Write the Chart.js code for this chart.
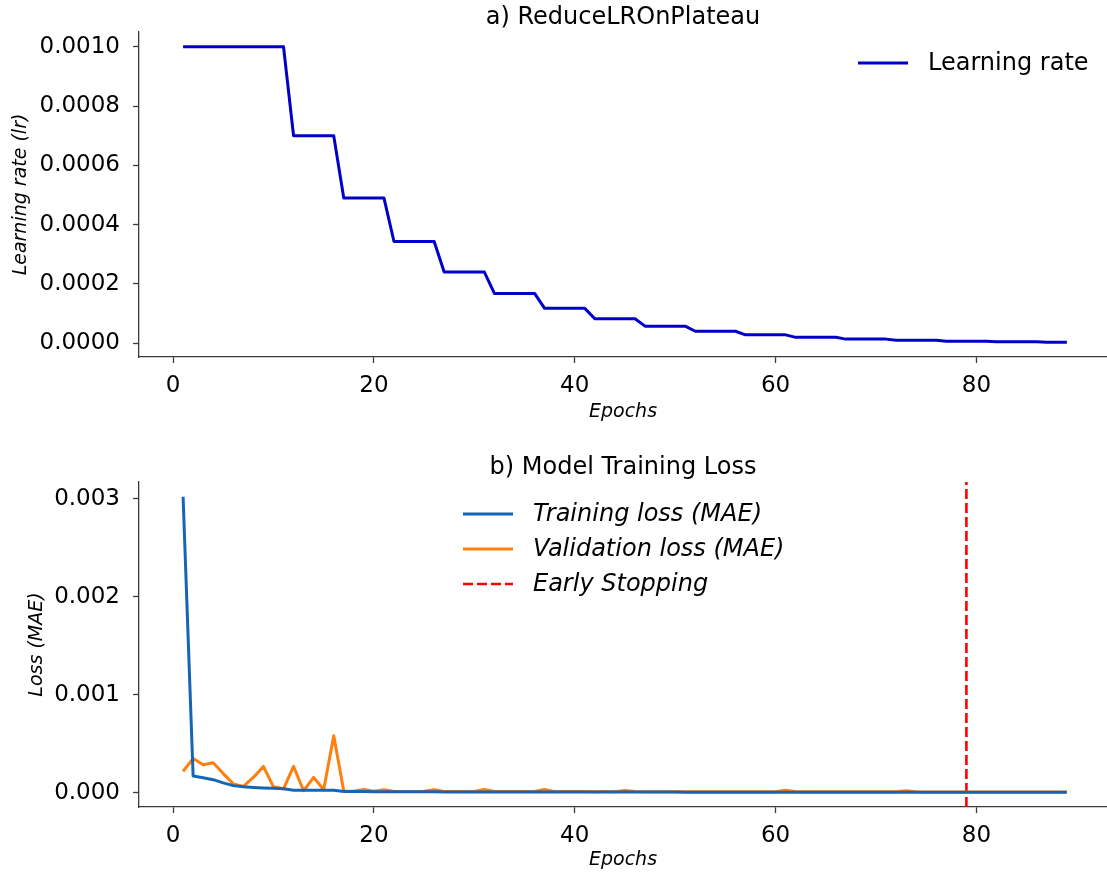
<!DOCTYPE html>
<html>
<head>
<meta charset="utf-8">
<script src="https://cdn.jsdelivr.net/npm/chart.js@4.4.1/dist/chart.umd.min.js"></script>
<style>
  body { margin: 0; background: #fff; }
  #wrap { position: relative; width: 1107px; height: 877px; }
  canvas { position: absolute; left: 0; }
</style>
</head>
<body>
<div id="wrap">
  <canvas id="lrChart" width="1107" height="440" style="top:0"></canvas>
  <canvas id="lossChart" width="1107" height="437" style="top:440px"></canvas>
</div>
<script>
// epochs run 1..89
var epochs = [
  1, 2, 3, 4, 5, 6, 7, 8, 9, 10, 11, 12, 13, 14, 15, 16, 17, 18, 19, 20,
  21, 22, 23, 24, 25, 26, 27, 28, 29, 30, 31, 32, 33, 34, 35, 36, 37, 38, 39, 40,
  41, 42, 43, 44, 45, 46, 47, 48, 49, 50, 51, 52, 53, 54, 55, 56, 57, 58, 59, 60,
  61, 62, 63, 64, 65, 66, 67, 68, 69, 70, 71, 72, 73, 74, 75, 76, 77, 78, 79, 80,
  81, 82, 83, 84, 85, 86, 87, 88, 89
];

// learning rate after each epoch (ReduceLROnPlateau, factor 0.7)
var learningRate = [
  0.001, 0.001, 0.001, 0.001, 0.001, 0.001, 0.001, 0.001, 0.001, 0.001, 0.001,
  0.0007, 0.0007, 0.0007, 0.0007, 0.0007,
  0.00049, 0.00049, 0.00049, 0.00049, 0.00049,
  0.000343, 0.000343, 0.000343, 0.000343, 0.000343,
  0.00024, 0.00024, 0.00024, 0.00024, 0.00024,
  0.000168, 0.000168, 0.000168, 0.000168, 0.000168,
  0.0001176, 0.0001176, 0.0001176, 0.0001176, 0.0001176,
  0.0000824, 0.0000824, 0.0000824, 0.0000824, 0.0000824,
  0.0000576, 0.0000576, 0.0000576, 0.0000576, 0.0000576,
  0.0000404, 0.0000404, 0.0000404, 0.0000404, 0.0000404,
  0.0000282, 0.0000282, 0.0000282, 0.0000282, 0.0000282,
  0.0000198, 0.0000198, 0.0000198, 0.0000198, 0.0000198,
  0.0000138, 0.0000138, 0.0000138, 0.0000138, 0.0000138,
  0.0000097, 0.0000097, 0.0000097, 0.0000097, 0.0000097,
  0.0000068, 0.0000068, 0.0000068, 0.0000068, 0.0000068,
  0.0000047, 0.0000047, 0.0000047, 0.0000047, 0.0000047,
  0.0000033, 0.0000033, 0.0000033
];

var trainLoss = [
  0.00302, 0.000170, 0.000152, 0.000133, 0.000100, 0.000072, 0.000060, 0.000054, 0.000049, 0.000045,
  0.000040, 0.000026, 0.000025, 0.000025, 0.000024, 0.000024, 0.000012, 0.000011, 0.000011, 0.000010,
  0.000010, 0.000010, 0.000009, 0.000009, 0.000009, 0.000009, 0.000008, 0.000008, 0.000008, 0.000008,
  0.000008, 0.000007, 0.000007, 0.000007, 0.000007, 0.000007, 0.000007, 0.000006, 0.000006, 0.000006,
  0.000006, 0.000006, 0.000006, 0.000006, 0.000006, 0.000006, 0.000006, 0.000006, 0.000006, 0.000006,
  0.000005, 0.000005, 0.000005, 0.000005, 0.000005, 0.000005, 0.000005, 0.000005, 0.000005, 0.000005,
  0.000005, 0.000005, 0.000005, 0.000005, 0.000005, 0.000005, 0.000005, 0.000005, 0.000005, 0.000005,
  0.000004, 0.000004, 0.000004, 0.000004, 0.000004, 0.000004, 0.000004, 0.000004, 0.000004, 0.000004,
  0.000004, 0.000004, 0.000004, 0.000004, 0.000004, 0.000004, 0.000004, 0.000004, 0.000004
];

var valLoss = [
  0.000217, 0.000349, 0.000285, 0.000305, 0.000195, 0.000090, 0.000064, 0.000156, 0.000268, 0.000060,
  0.000040, 0.000268, 0.000020, 0.000156, 0.000030, 0.000580, 0.000018, 0.000015, 0.000032, 0.000014,
  0.000030, 0.000013, 0.000013, 0.000012, 0.000014, 0.000030, 0.000013, 0.000012, 0.000012, 0.000013,
  0.000034, 0.000012, 0.000011, 0.000011, 0.000012, 0.000012, 0.000032, 0.000011, 0.000011, 0.000011,
  0.000011, 0.000010, 0.000011, 0.000010, 0.000022, 0.000011, 0.000010, 0.000010, 0.000010, 0.000010,
  0.000010, 0.000010, 0.000010, 0.000010, 0.000010, 0.000009, 0.000010, 0.000009, 0.000009, 0.000010,
  0.000024, 0.000009, 0.000009, 0.000009, 0.000009, 0.000009, 0.000009, 0.000009, 0.000010, 0.000009,
  0.000009, 0.000009, 0.000020, 0.000009, 0.000008, 0.000008, 0.000008, 0.000008, 0.000008, 0.000008,
  0.000008, 0.000008, 0.000008, 0.000008, 0.000008, 0.000008, 0.000008, 0.000008, 0.000008
];

var earlyStopEpoch = 79;

var epochTicks = [0, 20, 40, 60, 80];
var lrTicks = [0, 0.0002, 0.0004, 0.0006, 0.0008, 0.001];
var lossTicks = [0, 0.001, 0.002, 0.003];

// axis limits (data range plus 5% margin)
var epochMin = -3.39, epochMax = 93.0;
var lrMin = -0.0000465, lrMax = 0.0010498;
var lossMin = -0.000146, lossMax = 0.00317;

var FONT = "'DejaVu Sans', 'Liberation Sans', sans-serif";
var SPINE = '#3a3a3a';

function points(ys) {
  return epochs.map(function (e, i) { return { x: e, y: ys[i] }; });
}

// legend drawn as short line samples inside the plot area
var lineLegend = {
  id: 'lineLegend',
  afterDraw: function (chart, args, opts) {
    var ctx = chart.ctx, area = chart.chartArea;
    ctx.save();
    ctx.font = opts.font;
    ctx.textBaseline = 'middle';
    ctx.textAlign = 'left';
    var y = area.top + opts.top;
    chart.data.datasets.forEach(function (ds) {
      var x = area.left + opts.left;
      ctx.strokeStyle = ds.borderColor;
      ctx.lineWidth = ds.borderWidth;
      ctx.setLineDash(ds.borderDash || []);
      ctx.beginPath();
      ctx.moveTo(x, y);
      ctx.lineTo(x + opts.lineLength, y);
      ctx.stroke();
      ctx.setLineDash([]);
      ctx.fillStyle = '#000';
      ctx.fillText(ds.label, x + opts.lineLength + opts.gap, y + 1);
      y += opts.rowHeight;
    });
    ctx.restore();
  }
};

function xAxis(height, titlePad) {
  return {
    type: 'linear',
    min: epochMin,
    max: epochMax,
    afterBuildTicks: function (scale) {
      scale.ticks = epochTicks.map(function (v) { return { value: v }; });
    },
    afterFit: function (scale) { scale.height = height; },
    grid: { display: true, drawOnChartArea: false, drawTicks: true, tickLength: 6, tickColor: SPINE, tickWidth: 1.3 },
    border: { display: true, color: SPINE, width: 1.3 },
    ticks: { color: '#000', padding: 9, maxRotation: 0, font: { family: FONT, size: 23 },
      callback: function (v) { return String(v); } },
    title: { display: true, text: 'Epochs', color: '#000',
      font: { family: FONT, size: 19, style: 'italic' }, padding: { top: 0, bottom: titlePad } }
  };
}

function yAxis(min, max, tickVals, digits, label, titlePad) {
  return {
    min: min,
    max: max,
    afterBuildTicks: function (scale) {
      scale.ticks = tickVals.map(function (v) { return { value: v }; });
    },
    afterFit: function (scale) { scale.width = 139; },
    grid: { display: true, drawOnChartArea: false, drawTicks: true, tickLength: 6, tickColor: SPINE, tickWidth: 1.3 },
    border: { display: true, color: SPINE, width: 1.3 },
    ticks: { color: '#000', padding: 13, font: { family: FONT, size: 23 },
      callback: function (v) { return v.toFixed(digits); } },
    title: { display: true, text: label, color: '#000',
      font: { family: FONT, size: 19, style: 'italic' }, padding: { top: titlePad, bottom: 0 } }
  };
}

function titleOpts(text, padTop) {
  return { display: true, text: text, color: '#000', fullSize: false,
    font: { family: FONT, size: 24, weight: 'normal' }, padding: { top: padTop, bottom: 0 } };
}

// a) learning rate schedule
new Chart(document.getElementById('lrChart').getContext('2d'), {
  type: 'line',
  data: {
    datasets: [{
      label: 'Learning rate',
      data: points(learningRate),
      borderColor: '#0000c8',
      borderWidth: 3,
      borderJoinStyle: 'round',
      pointRadius: 0,
      fill: false,
      tension: 0
    }]
  },
  options: {
    responsive: false,
    animation: false,
    devicePixelRatio: 1,
    layout: { padding: { left: 0, right: 0, top: 0, bottom: 0 } },
    scales: {
      x: xAxis(83, 16.5),
      y: yAxis(lrMin, lrMax, lrTicks, 4, 'Learning rate (lr)', 10)
    },
    plugins: {
      legend: { display: false },
      tooltip: { enabled: false },
      title: titleOpts('a) ReduceLROnPlateau', 3.2),
      lineLegend: { left: 719, top: 31, lineLength: 50, gap: 20, rowHeight: 35,
        font: '24px ' + FONT }
    }
  },
  plugins: [lineLegend]
});

// b) training / validation loss with early stopping marker
new Chart(document.getElementById('lossChart').getContext('2d'), {
  type: 'line',
  data: {
    datasets: [{
      label: 'Training loss (MAE)',
      data: points(trainLoss),
      borderColor: '#1565b5',
      borderWidth: 3,
      borderJoinStyle: 'round',
      pointRadius: 0,
      fill: false
    }, {
      label: 'Validation loss (MAE)',
      data: points(valLoss),
      borderColor: '#ff7f0e',
      borderWidth: 3,
      borderJoinStyle: 'round',
      pointRadius: 0,
      fill: false
    }, {
      label: 'Early Stopping',
      data: [{ x: earlyStopEpoch, y: lossMin }, { x: earlyStopEpoch, y: lossMax }],
      borderColor: '#ff0000',
      borderWidth: 2.6,
      borderDash: [10, 4],
      pointRadius: 0,
      fill: false
    }]
  },
  options: {
    responsive: false,
    animation: false,
    devicePixelRatio: 1,
    layout: { padding: { left: 0, right: 0, top: 0, bottom: 0 } },
    scales: {
      x: xAxis(70, 5.5),
      y: yAxis(lossMin, lossMax, lossTicks, 3, 'Loss (MAE)', 25.5)
    },
    plugins: {
      legend: { display: false },
      tooltip: { enabled: false },
      title: titleOpts('b) Model Training Loss', 13.2),
      lineLegend: { left: 324, top: 32, lineLength: 50, gap: 20, rowHeight: 35,
        font: 'italic 24px ' + FONT }
    }
  },
  plugins: [lineLegend]
});
</script>
</body>
</html>
